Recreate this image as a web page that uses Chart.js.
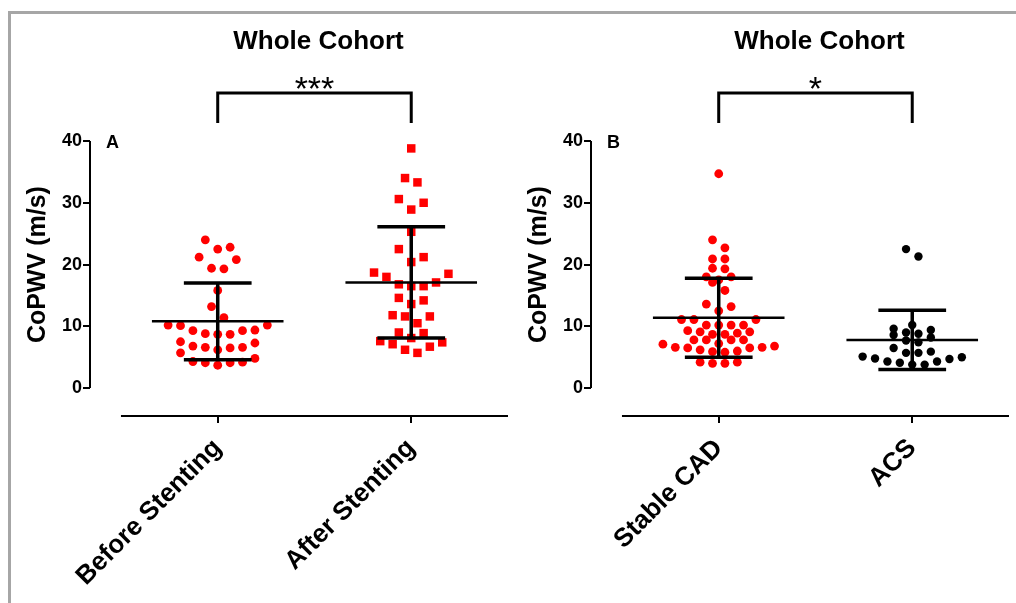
<!DOCTYPE html>
<html>
<head>
<meta charset="utf-8">
<script src="https://cdn.jsdelivr.net/npm/chart.js@4"></script>
<style>
  body { margin: 0; width: 1016px; height: 603px; overflow: hidden; background: #fff; position: relative; }
  #frame { position: absolute; left: 8px; top: 11px; right: -10px; bottom: -10px;
           border-left: 3px solid #a6a6a6; border-top: 3px solid #a6a6a6; }
  canvas { position: absolute; top: 0; }
  #chartA { left: 0; }
  #chartB { left: 501px; }
</style>
</head>
<body>
<div id="frame"></div>
<canvas id="chartA" width="520" height="603"></canvas>
<canvas id="chartB" width="520" height="603"></canvas>
<script>
// panel A
const groupsA = ['Before Stenting', 'After Stenting'];
const beforeStenting = [24.0, 22.5, 22.8, 21.2, 20.8, 19.4, 19.3, 15.8, 13.2, 11.4, 10.2, 10.1, 10.2,
    9.3, 8.8, 8.7, 8.7, 9.3, 9.4, 7.3, 7.5, 6.6, 6.5, 6.2, 6.6, 6.8, 5.7, 4.8, 4.2, 4.1, 4.1, 4.3, 3.7];
const afterStenting = [38.8, 34.0, 33.3, 30.6, 30.0, 28.9, 25.3, 22.5, 21.2, 20.4, 18.0, 18.7, 18.5,
    17.1, 16.8, 16.5, 16.5, 14.6, 14.2, 13.6, 11.6, 11.6, 11.8, 10.5, 8.9, 9.0, 8.1, 7.4, 7.6, 6.7, 7.1, 5.7, 6.2];
const meanA = [10.8, 17.1];
const sdA = [6.2, 9.0];

// panel B
const groupsB = ['Stable CAD', 'ACS'];
const stableCAD = [34.7, 24.0, 22.7, 20.9, 20.9, 19.3, 19.4, 18.0, 18.0, 17.1, 17.5, 15.8, 13.2, 13.6, 12.5,
    11.1, 11.1, 11.1, 10.2, 10.2, 10.2, 10.2, 9.1, 8.9, 8.7, 8.7, 9.1, 9.3, 7.8, 7.8, 7.8, 7.8,
    7.2, 6.8, 6.6, 6.5, 6.0, 5.9, 6.2, 6.5, 6.6, 7.1, 5.8, 4.2, 4.0, 4.0, 4.2];
const acs = [22.5, 21.3, 10.2, 9.4, 8.8, 9.0, 9.6, 8.6, 8.2, 7.7, 7.4, 6.5, 5.9, 5.7, 5.7, 5.1, 4.8,
    4.3, 4.1, 3.8, 3.8, 4.3, 4.7, 5.0];
const meanB = [11.4, 7.8];
const sdB = [6.4, 4.8];

const yTicks = [0, 10, 20, 30, 40];
const titles = ['Whole Cohort', 'Whole Cohort'];
const stars = ['***', '*'];
const letters = ['A', 'B'];
const yTitle = 'CoPWV (m/s)';

const FONT = "'Liberation Sans', Arial, sans-serif";

// GraphPad-like scatter: values grouped in rows, each row spread out from the centre
function swarm(values, center, rowHeight) {
    const slot = 12.4 / 193.5;
    const order = values.map((_, i) => i).sort((a, b) => values[a] - values[b]);
    const xs = new Array(values.length);
    let start = 0;
    while (start < order.length) {
        const base = values[order[start]];
        let end = start;
        while (end < order.length && values[order[end]] <= base + rowHeight) end++;
        const n = end - start;
        const pos = [];
        if (n % 2) {
            pos.push(0);
            for (let k = 1; pos.length < n; k++) pos.push(k, -k);
        } else {
            for (let k = 0.5; pos.length < n; k++) pos.push(k, -k);
        }
        for (let j = 0; j < n; j++) xs[order[start + j]] = center + pos[j] * slot;
        start = end;
    }
    return values.map((v, i) => ({ x: xs[i], y: v }));
}

function decorPlugin(groups, mean, sd, title, star, letter) {
    return {
        id: 'decor',
        afterDatasetsDraw(chart) {
            const ctx = chart.ctx;
            const xs = chart.scales.x, ys = chart.scales.y;
            const area = chart.chartArea;
            ctx.save();
            ctx.strokeStyle = '#000';
            ctx.fillStyle = '#000';
            ctx.lineCap = 'butt';

            // mean and SD bars
            for (let i = 0; i < groups.length; i++) {
                const yM = ys.getPixelForValue(mean[i]);
                const yT = ys.getPixelForValue(mean[i] + sd[i]);
                const yB = ys.getPixelForValue(mean[i] - sd[i]);
                ctx.lineWidth = 2.5;
                ctx.beginPath();
                ctx.moveTo(xs.getPixelForValue(i - 0.34), yM);
                ctx.lineTo(xs.getPixelForValue(i + 0.34), yM);
                ctx.stroke();
                ctx.lineWidth = 3.5;
                ctx.beginPath();
                ctx.moveTo(xs.getPixelForValue(i), yT);
                ctx.lineTo(xs.getPixelForValue(i), yB);
                ctx.moveTo(xs.getPixelForValue(i - 0.175), yT);
                ctx.lineTo(xs.getPixelForValue(i + 0.175), yT);
                ctx.moveTo(xs.getPixelForValue(i - 0.175), yB);
                ctx.lineTo(xs.getPixelForValue(i + 0.175), yB);
                ctx.stroke();
            }

            // axis lines, GraphPad style (detached)
            ctx.lineWidth = 2;
            ctx.beginPath();
            ctx.moveTo(area.left, ys.getPixelForValue(yTicks[0]));
            ctx.lineTo(area.left, ys.getPixelForValue(yTicks[yTicks.length - 1]));
            ctx.moveTo(xs.getPixelForValue(-0.5), area.bottom);
            ctx.lineTo(xs.getPixelForValue(groups.length - 0.5), area.bottom);
            ctx.stroke();

            // significance bracket
            const x0 = xs.getPixelForValue(0), x1 = xs.getPixelForValue(1);
            const yb = area.top - 48;
            ctx.lineWidth = 3;
            ctx.beginPath();
            ctx.moveTo(x0, area.top - 18);
            ctx.lineTo(x0, yb);
            ctx.lineTo(x1, yb);
            ctx.lineTo(x1, area.top - 18);
            ctx.stroke();

            const mid = (x0 + x1) / 2;
            ctx.textAlign = 'center';
            ctx.textBaseline = 'alphabetic';
            ctx.font = '34px ' + FONT;
            ctx.fillText(star, mid, area.top - 41);

            ctx.textBaseline = 'middle';
            ctx.font = 'bold 26px ' + FONT;
            ctx.fillText(title, mid + 4, area.top - 99);

            ctx.textAlign = 'left';
            ctx.font = 'bold 18px ' + FONT;
            ctx.fillText(letter, area.left + 16, area.top + 2);

            // y axis title
            const yMid = (ys.getPixelForValue(yTicks[0]) + ys.getPixelForValue(yTicks[yTicks.length - 1])) / 2;
            ctx.translate(area.left - 52, yMid);
            ctx.rotate(-Math.PI / 2);
            ctx.textAlign = 'center';
            ctx.font = 'bold 25px ' + FONT;
            ctx.fillText(yTitle, 0, 0);
            ctx.restore();
        }
    };
}

function makePanel(id, groups, series, rows, styles, colors, radii, mean, sd, idx) {
    const datasets = series.map((vals, i) => ({
        data: swarm(vals, i, rows[i]),
        pointStyle: styles[i],
        pointRadius: radii[i],
        pointBackgroundColor: colors[i],
        pointBorderWidth: 0,
        pointHoverRadius: radii[i]
    }));

    return new Chart(document.getElementById(id), {
        type: 'scatter',
        data: { datasets: datasets },
        options: {
            responsive: false,
            animation: false,
            devicePixelRatio: 1,
            layout: { padding: { top: 141, right: 12, bottom: 0, left: 0 } },
            plugins: { legend: { display: false }, tooltip: { enabled: false } },
            scales: {
                x: {
                    type: 'linear',
                    min: -0.66,
                    max: 1.5,
                    afterBuildTicks: s => { s.ticks = groups.map((_, i) => ({ value: i })); },
                    afterFit: s => { s.height = 187; },
                    ticks: {
                        autoSkip: false,
                        minRotation: 45,
                        maxRotation: 45,
                        padding: 10,
                        color: '#000',
                        font: { family: FONT, size: 26, weight: 'bold' },
                        callback: v => groups[v]
                    },
                    grid: { drawOnChartArea: false, tickLength: 7, color: '#000', lineWidth: 2 },
                    border: { display: false }
                },
                y: {
                    min: -4.52,
                    max: 40,
                    afterBuildTicks: s => { s.ticks = yTicks.map(v => ({ value: v })); },
                    afterFit: s => { s.width = 90; },
                    ticks: {
                        padding: 1,
                        color: '#000',
                        font: { family: FONT, size: 18, weight: 'bold' }
                    },
                    grid: { drawOnChartArea: false, tickLength: 7, color: '#000', lineWidth: 2 },
                    border: { display: false }
                }
            }
        },
        plugins: [decorPlugin(groups, mean, sd, titles[idx], stars[idx], letters[idx])]
    });
}

makePanel('chartA', groupsA, [beforeStenting, afterStenting], [2.2, 2.2], ['circle', 'rect'],
    ['#ff0000', '#ff0000'], [4.4, 6], meanA, sdA, 0);
makePanel('chartB', groupsB, [stableCAD, acs], [1.35, 1.35], ['circle', 'circle'],
    ['#ff0000', '#000000'], [4.4, 4.2], meanB, sdB, 1);
</script>
</body>
</html>
